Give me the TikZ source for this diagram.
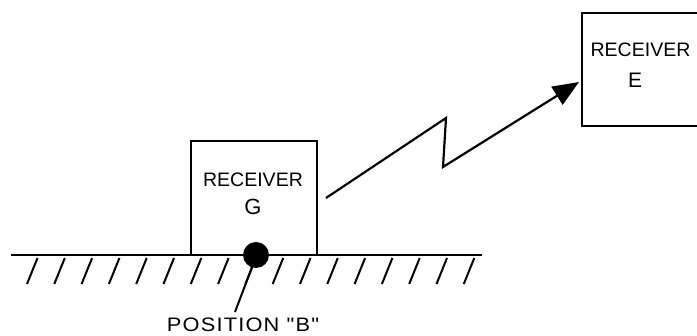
\documentclass[tikz,border=0pt]{standalone}
\usepackage{fontspec}
\setmainfont{Liberation Sans}
\newfontfamily\lbl[FakeStretch=1.12,LetterSpace=6]{Liberation Sans}
\usetikzlibrary{arrows.meta}
\begin{document}
\begin{tikzpicture}[x=1pt,y=-1pt,
  rx/.style={draw,line width=2pt,minimum width=126pt,minimum height=114pt,inner sep=0pt},
  lab/.style={font=\fontsize{19.5}{22}\selectfont},
  lk/.style={line width=2.2pt},
  hatch/.style={line width=2pt}]
\useasboundingbox (0,0) rectangle (697,336);
\clip (0,0) rectangle (697,336);
% receiver G
\node[rx] (G) at (254,198) {};
\node[lab] (Gt) at (253,180) {RECEIVER};
\node[font=\fontsize{22}{24}\selectfont] (Gl) at (253,206.5) {G};
% receiver E
\node[rx,minimum width=130pt,minimum height=113pt] (E) at (647,69.5) {};
\node[lab] (Et) at (640.5,50) {RECEIVER};
\node[font=\fontsize{21}{24}\selectfont] (El) at (635,80) {E};
% ground
\coordinate (g1) at (11,255);
\coordinate (g2) at (482,255);
\draw[line width=2.5pt] (g1) -- (g2);
\foreach \i in {0,...,16}{
  \draw[hatch] ({27+27.3*\i},284) -- ({37.5+27.3*\i},258);
}
% position B
\node[circle,fill=black,minimum size=26pt,inner sep=0pt] (B) at (256,255) {};
\node[font=\lbl\fontsize{19.5}{22}\selectfont] (Bt) at (243,325) {POSITION "B"};
\coordinate (bl) at (235,312);
\draw[line width=2pt] (B.center) ++(-2,7) -- (bl);
% radio link
\coordinate (s) at (326,198);
\coordinate (z1) at (446,118);
\coordinate (z2) at (443,167);
\coordinate (t) at (579,82);
\draw[lk,-{Triangle[length=26pt,width=21pt]}] (s) -- (z1) -- (z2) -- (t);
\end{tikzpicture}
\end{document}
